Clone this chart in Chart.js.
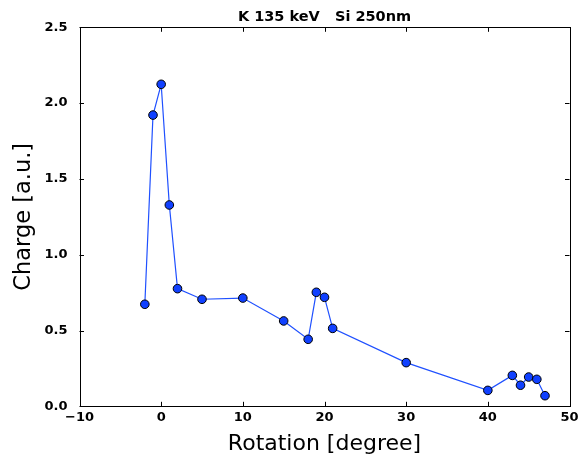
<!DOCTYPE html>
<html>
<head>
<meta charset="utf-8">
<title>K 135 keV Si 250nm</title>
<script src="https://cdn.jsdelivr.net/npm/chart.js@4/dist/chart.umd.min.js"></script>
<style>
  html, body { margin: 0; padding: 0; background: #ffffff; }
  #wrap { width: 579px; height: 459px; }
</style>
</head>
<body>
<div id="wrap"><canvas id="c" width="579" height="459"></canvas></div>
<script>
// Rotation angle (degrees) and measured charge (a.u.)
const rotation = [-2, -1, 0, 1, 2, 5, 10, 15, 18, 19, 20, 21, 30, 40, 43, 44, 45, 46, 47];
const charge   = [0.673, 1.921, 2.124, 1.328, 0.776, 0.706, 0.714, 0.563, 0.442, 0.752, 0.719, 0.514, 0.288, 0.105, 0.204, 0.139, 0.193, 0.178, 0.070];

const xTicks = [-10, 0, 10, 20, 30, 40, 50];
const yTicks = [0.0, 0.5, 1.0, 1.5, 2.0, 2.5];

const chartTitle = 'K 135 keV   Si 250nm';
const xLabel = 'Rotation [degree]';
const yLabel = 'Charge [a.u.]';

const FONT = '"DejaVu Sans", "Liberation Sans", sans-serif';

// Axes frame with inward ticks on all four sides
const frameTicks = {
  id: 'frameTicks',
  afterDatasetsDraw(chart) {
    const { ctx, chartArea: a, scales: { x, y } } = chart;
    const len = 4.5;
    ctx.save();
    ctx.strokeStyle = '#000';
    ctx.lineWidth = 1;
    ctx.beginPath();
    for (const v of xTicks) {
      const px = Math.round(x.getPixelForValue(v)) + 0.5;
      ctx.moveTo(px, a.bottom); ctx.lineTo(px, a.bottom - len);
      ctx.moveTo(px, a.top); ctx.lineTo(px, a.top + len);
    }
    for (const v of yTicks) {
      const py = Math.round(y.getPixelForValue(v)) + 0.5;
      ctx.moveTo(a.left, py); ctx.lineTo(a.left + len, py);
      ctx.moveTo(a.right, py); ctx.lineTo(a.right - len, py);
    }
    ctx.stroke();
    ctx.strokeRect(Math.round(a.left) + 0.5, Math.round(a.top) + 0.5,
                   Math.round(a.right - a.left), Math.round(a.bottom - a.top));
    ctx.restore();
  }
};

new Chart(document.getElementById('c'), {
  type: 'scatter',
  data: {
    datasets: [{
      data: rotation.map((r, i) => ({ x: r, y: charge[i] })),
      showLine: true,
      borderColor: '#1f50ff',
      borderWidth: 1.2,
      pointRadius: 4.3,
      pointHoverRadius: 4.3,
      pointBackgroundColor: '#1040ff',
      pointBorderColor: '#000000',
      pointBorderWidth: 1,
      tension: 0,
      clip: false
    }]
  },
  options: {
    responsive: false,
    animation: false,
    devicePixelRatio: 1,
    layout: { padding: { left: 0, right: 9.5, top: 0, bottom: 0 } },
    plugins: {
      legend: { display: false },
      tooltip: { enabled: false },
      title: {
        display: true,
        text: chartTitle,
        fullSize: false,
        color: '#000',
        font: { family: FONT, size: 14.5, weight: 'bold', lineHeight: 1.2 },
        padding: { top: 8.4, bottom: 1.5 }
      }
    },
    scales: {
      x: {
        type: 'linear',
        min: -10, max: 50,
        afterBuildTicks(s) { s.ticks = xTicks.map(v => ({ value: v })); },
        afterFit(s) { s.height = 52.7; },
        grid: { display: false },
        border: { display: false },
        ticks: {
          color: '#000',
          padding: -4,
          maxRotation: 0,
          font: { family: FONT, size: 13, weight: 'bold' },
          callback: v => String(v).replace('-', '\u2212')
        },
        title: {
          display: true,
          text: xLabel,
          color: '#000',
          font: { family: FONT, size: 22, lineHeight: 1.2 },
          padding: { top: 0, bottom: 2 }
        }
      },
      y: {
        type: 'linear',
        min: 0, max: 2.5,
        afterBuildTicks(s) { s.ticks = yTicks.map(v => ({ value: v })); },
        afterFit(s) { s.width = 79.5; },
        grid: { display: false },
        border: { display: false },
        ticks: {
          color: '#000',
          padding: 4,
          font: { family: FONT, size: 13, weight: 'bold' },
          callback: v => Number(v).toFixed(1)
        },
        title: {
          display: true,
          text: yLabel,
          color: '#000',
          font: { family: FONT, size: 22.5, lineHeight: 1.2 },
          padding: { top: 11, bottom: 0 }
        }
      }
    }
  },
  plugins: [frameTicks]
});
</script>
</body>
</html>
